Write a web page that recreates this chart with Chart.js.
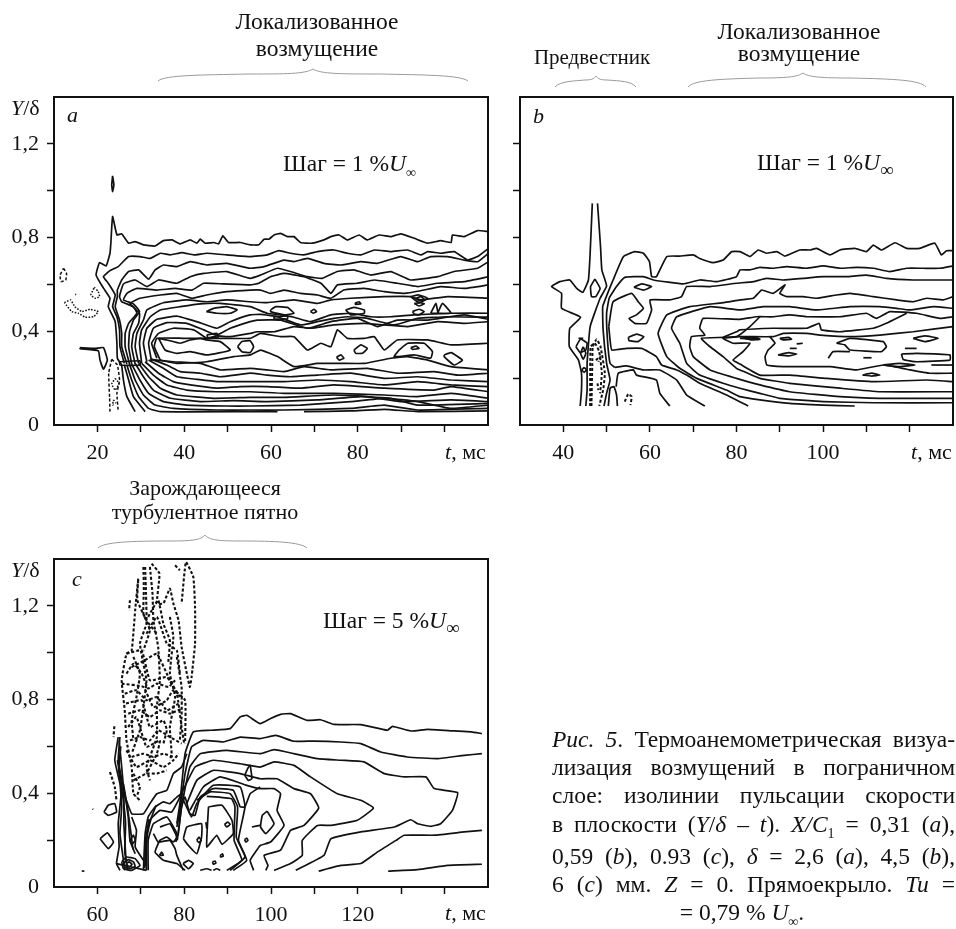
<!DOCTYPE html>
<html lang="ru">
<head>
<meta charset="utf-8">
<title>Рис. 5</title>
<script src="https://cdn.jsdelivr.net/npm/chart.js@4"></script>
<style>
html, body { margin: 0; padding: 0; background: #fff; width: 956px; height: 929px; overflow: hidden; }
body { position: relative; font-family: "Liberation Serif", serif; color: #111; }
canvas { position: absolute; display: block; }
.t { position: absolute; white-space: nowrap; font-size: 22px; line-height: 24px; }
.c { transform: translateX(-50%); }
.big { font-size: 23.5px; }
.j { position: absolute; left: 552px; width: 403px; font-size: 23.5px; line-height: 24px; text-align: justify; text-align-last: justify; white-space: normal; }
i { font-style: italic; }
sub { font-size: 14px; line-height: 0; }
svg { position: absolute; left: 0; top: 0; }
</style>
</head>
<body>
<canvas id="chartA" width="494" height="380" style="left:0;top:90px"></canvas>
<canvas id="chartB" width="486" height="380" style="left:470px;top:90px"></canvas>
<canvas id="chartC" width="494" height="378" style="left:0;top:551px"></canvas>

<svg width="956" height="929" fill="none" stroke="#9a9a9a" stroke-width="1">
  <path d="M158 81 C165 75 200 75 250 74 C285 74 305 74 313 69 C321 74 341 74 380 74 C425 75 460 75 468 81"/>
  <path d="M555 87 C560 81 575 81 585 80 C591 80 594 79 596 76 C598 79 601 80 607 80 C620 81 631 81 636 87"/>
  <path d="M688 87 C694 80 720 79 760 78 C785 78 798 77 803 73 C808 77 822 78 850 78 C895 79 920 80 926 87"/>
  <path d="M98 548 C104 542 130 541 170 541 C192 541 201 540 205 535 C209 540 218 541 240 541 C275 541 300 542 307 548"/>
</svg>

<div class="t c big" style="left:317px;top:9px">Локализованное</div>
<div class="t c big" style="left:317px;top:36px">возмущение</div>
<div class="t c" style="left:592px;top:45px;font-size:21px">Предвестник</div>
<div class="t c big" style="left:799px;top:19px">Локализованное</div>
<div class="t c big" style="left:799px;top:41px">возмущение</div>
<div class="t c" style="left:205px;top:476px">Зарождающееся</div>
<div class="t c" style="left:205px;top:500px">турбулентное пятно</div>

<div class="t" style="left:11px;top:96px"><i>Y</i>/δ</div>
<div class="t" style="left:11px;top:558px"><i>Y</i>/δ</div>
<div class="t" style="left:67px;top:103px"><i>a</i></div>
<div class="t" style="left:533px;top:104px"><i>b</i></div>
<div class="t" style="left:72px;top:567px"><i>c</i></div>
<div class="t big" style="left:283px;top:151px">Шаг = 1 %<i>U</i><sub>∞</sub></div>
<div class="t big" style="left:757px;top:150px">Шаг = 1 %<i>U</i><sub style="font-size:19px">∞</sub></div>
<div class="t big" style="left:323px;top:608px">Шаг = 5 %<i>U</i><sub style="font-size:19px">∞</sub></div>
<div class="t" style="left:445px;top:440px"><i>t</i>, мс</div>
<div class="t" style="left:911px;top:440px"><i>t</i>, мс</div>
<div class="t" style="left:445px;top:901px"><i>t</i>, мс</div>

<div class="j" style="top:727px"><i>Рис. 5</i>. Термоанемометрическая визуа-</div>
<div class="j" style="top:755px">лизация возмущений в пограничном</div>
<div class="j" style="top:783px">слое: изолинии пульсации скорости</div>
<div class="j" style="top:812px">в плоскости (<i>Y</i>/<i>δ</i> – <i>t</i>). <i>X/C</i><sub>1</sub> = 0,31 (<i>a</i>),</div>
<div class="j" style="top:844px">0,59 (<i>b</i>), 0.93 (<i>c</i>), <i>δ</i> = 2,6 (<i>a</i>), 4,5 (<i>b</i>),</div>
<div class="j" style="top:872px">6 (<i>c</i>) мм. <i>Z</i> = 0. Прямоекрыло. <i>Tu</i> =</div>
<div class="t c big" style="left:742px;top:900px">= 0,79 % <i>U</i><sub>∞</sub>.</div>

<script>
// тики осей
const yTickValues = [0, 0.2, 0.4, 0.6, 0.8, 1.0, 1.2];
const yTickLabels = ['0', '', '0,4', '', '0,8', '', '1,2'];
const xTicksA = [20, 30, 40, 50, 60, 70, 80, 90, 100];
const xLabelsA = ['20', '', '40', '', '60', '', '80', '', ''];
const xTicksB = [40, 50, 60, 70, 80, 90, 100, 110, 120];
const xLabelsB = ['40', '', '60', '', '80', '', '100', '', ''];
const xTicksC = [60, 70, 80, 90, 100, 110, 120, 130, 140];
const xLabelsC = ['60', '', '80', '', '100', '', '120', '', ''];

// изолинии: t, Y/δ, t, Y/δ ...
const aLines = [
  [25.6,.256,24.6,.285,24.5,.349,24.1,.441,22.5,.505,22.9,.541,21.4,.584,19.7,.640,20.5,.693,22,.679,22.9,.733,23.1,.776,23.5,.890,24.5,.811,25.6,.816,27.2,.776,28.7,.783,30.6,.769,33.3,.764,35.2,.787,37.2,.790,39.1,.773,41.4,.790,42.9,.776,43.7,.793,44.8,.776,46.8,.779,47.9,.773,48.9,.807,50.2,.779,52.9,.779,55.2,.769,57.2,.769,58.4,.793,59.5,.793,60.7,.811,62.2,.818,63.8,.804,65.3,.804,66.8,.779,69.5,.776,72.2,.790,73.8,.804,75.7,.811,77.6,.790,80.3,.811,82.2,.790,84.9,.811,87.6,.804,89.9,.816,93,.797,96.1,.776,99.1,.787,101.5,.779,101.8,.811,104.5,.804,107.6,.830,110.1,.825],
  [26.2,.263,25.2,.334,25.1,.406,24.5,.462,23.5,.505,24.1,.555,22.5,.605,21.4,.633,22.9,.659,24.8,.676,27.2,.719,29.8,.719,32.2,.711,34.5,.733,36.8,.726,39.5,.736,42.2,.726,45.2,.733,49.8,.726,55.2,.719,59.1,.726,61.8,.744,64.5,.733,67.6,.726,70.7,.740,74.5,.747,77.6,.733,80.7,.726,83.8,.747,87.6,.740,91.5,.747,94.5,.726,96.1,.740,99.1,.733,102.2,.740,105.3,.704,107.6,.719,110.1,.754],
  [26.8,.260,25.6,.334,25.6,.391,25.1,.448,24.1,.505,24.6,.548,24.6,.576,25.6,.619,27.2,.655,29.5,.662,31.8,.622,33.3,.662,35.2,.683,38.3,.676,41.4,.697,45.2,.683,49.8,.690,55.2,.669,58.4,.676,63,.704,65.3,.697,68.4,.711,72.2,.690,76.1,.683,80.7,.697,84.5,.690,89.9,.719,93.8,.697,96.8,.719,100.7,.719,104.5,.704,107.6,.697,110.1,.733],
  [27.4,.260,26.4,.334,26.4,.391,27.2,.434,29.1,.477,28.3,.505,25.6,.526,25.1,.548,26,.602,28.7,.619,31.4,.591,34.1,.619,38.3,.605,41.4,.633,44.5,.647,49.8,.655,55.2,.626,57.6,.640,61.5,.669,64.5,.655,68.4,.633,71.8,.626,75.3,.655,79.1,.662,83,.640,87.6,.655,92.2,.619,98.4,.633,102.2,.655,107.6,.669,110.1,.697],
  [27.9,.260,27.2,.334,27.4,.398,28.3,.448,29.7,.484,28.3,.517,26,.534,26.8,.562,29.1,.583,33.7,.576,37.9,.583,41.8,.576,44.5,.605,49.1,.602,55.2,.598,57.2,.605,59.9,.633,63,.647,67.6,.633,71.5,.605,73.8,.562,75.3,.598,79.9,.605,83.8,.619,89.1,.605,93.8,.591,98.4,.605,104.5,.612,110.1,.633],
  [28.7,.260,27.9,.334,28.3,.391,29.5,.434,29.7,.477,27.5,.519,29.8,.541,34.5,.555,38.3,.562,41.8,.541,45.2,.555,49.8,.569,55.2,.576,57.6,.576,59.9,.562,63,.576,66.8,.562,70.7,.555,73.8,.541,76.8,.576,81.5,.583,86.1,.569,90.7,.562,94.5,.573,99.1,.591,104.5,.583,110.1,.598],
  [29.5,.263,28.7,.334,29.1,.391,30.6,.448,31.4,.491,35.2,.522,40.6,.534,45.2,.526,49.8,.534,55.2,.526,59.1,.522,65.3,.534,70.7,.519,73.8,.534,78.4,.541,86.1,.548,92.2,.548,94.5,.534,100.7,.548,110.1,.541],
  [30.2,.263,29.7,.349,30.2,.406,32.2,.462,34.5,.491,39.1,.505,43.7,.517,48.3,.519,55.2,.505,59.1,.477,62.2,.470,65.3,.460,69.1,.441,73.8,.470,78.4,.477,83,.462,87.6,.462,93,.470,101.5,.477,110.1,.477],
  [31.4,.270,30.6,.349,31.4,.413,33.7,.451,38.3,.465,42.9,.441,47.5,.413,50.6,.441,55.2,.470,57.6,.472,61.5,.462,66.8,.427,70.7,.441,74.5,.455,77.6,.462,82.2,.455,88.4,.427,93.8,.455,100.7,.462,110.1,.460],
  [32.5,.270,31.8,.349,32.9,.413,36,.437,40.6,.434,44.5,.406,47.5,.384,50.6,.413,55.2,.441,56.8,.448,62.2,.448,68.4,.413,73.8,.441,79.9,.455,84.5,.420,89.1,.448,96.1,.448,104.5,.470,110.1,.451],
  [33.7,.285,32.5,.349,34.1,.391,37.5,.413,42.2,.406,45.2,.370,47.5,.380,50.6,.377,55.2,.391,56.8,.398,60.7,.398,65.3,.420,69.1,.413,74.5,.427,81.5,.434,86.1,.427,91.5,.420,98.4,.441,104.5,.434,110.1,.441],
  [34.5,.277,33.1,.334,33.7,.370,39.8,.370,47.5,.370,55.2,.370,57.6,.391,62.2,.377,65.3,.377,68.4,.320,71.5,.349,73.8,.334,75.3,.406,77.6,.370,81.5,.370,83.8,.377,86.1,.320,89.1,.363,96.1,.363,101.5,.342,110.1,.349],
  [34.5,.277,38.3,.263,45.2,.270,51.4,.292,55.2,.299,57.6,.320,61.5,.292,65.3,.249,70.7,.263,76.1,.263,81.5,.263,87.6,.285,91.5,.292,96.1,.277,101.5,.249,110.1,.235],
  [32.2,.280,37.5,.270,43.7,.263,48.3,.235,55.2,.242,59.1,.235,63,.228,67.6,.249,73.8,.235,82.2,.242,89.1,.221,97.6,.228,103,.213,110.1,.221],
  [32.5,.280,36,.256,39.1,.228,43.7,.221,48.3,.206,55.2,.221,59.1,.213,64.5,.206,70.7,.213,78.4,.221,86.1,.199,93.8,.206,101.5,.192,110.1,.185],
  [31.8,.277,35.2,.242,38.3,.206,42.9,.195,47.5,.185,51.4,.185,56.8,.185,63,.185,70.7,.192,78.4,.185,86.1,.171,93.8,.185,101.5,.171,110.1,.164],
  [31,.270,34.1,.221,37.5,.185,41.4,.171,47.5,.157,52.9,.164,59.1,.164,66.8,.157,74.5,.171,86.1,.157,97.6,.149,101.5,.164,110.1,.142],
  [30.2,.263,32.9,.213,36,.171,40.6,.149,47.5,.142,55.2,.142,63,.135,74.5,.135,86.1,.128,93.8,.121,101.5,.135,110.1,.114],
  [29.5,.263,31.8,.206,34.5,.157,38.3,.128,46.8,.114,55.2,.118,63,.118,74.5,.128,82.2,.121,89.9,.100,101.5,.107,110.1,.100],
  [28.7,.263,30.6,.206,32.9,.149,36.8,.114,43.7,.100,51.4,.104,59.1,.100,70.7,.107,80.7,.121,87.6,.114,93.8,.085,110.1,.092],
  [27.9,.260,29.8,.192,31.8,.135,35.2,.100,40.6,.085,49.8,.081,55.2,.081,66.8,.085,78.4,.100,86.1,.114,93.8,.100,101.5,.071,110.1,.085],
  [27.4,.260,28.7,.192,30.6,.128,33.3,.085,37.5,.071,47.5,.064,55.2,.064,63,.064,78.4,.071,86.1,.085,93.8,.064,110.1,.071],
  [26.8,.256,27.9,.192,29.5,.121,31.8,.071,34.5,.057,55.2,.057,61.5,.057],
  [67.6,.057,78.4,.060,86.1,.067,93.8,.057,110.1,.060],
  [26.2,.256,27.2,.192,28.3,.121,31,.057],
  [25.6,.256,26,.192,26.8,.121,28.7,.057]
];
const aLoops = [
  [34.1,.370,35.6,.320,38.3,.306,41.4,.313,45.2,.299,50.6,.320,48.3,.356,45.2,.363,43.7,.370,41.4,.363,39.1,.349,36,.363],
  [45.1,.484,46.8,.498,49.8,.505,52.2,.491,50.6,.477,47.5,.477],
  [52.3,.334,53.3,.356,55.2,.360,56,.334,55.2,.309,53.3,.313],
  [79.1,.320,80.7,.342,82.2,.327,81.1,.306,79.5,.306],
  [75.1,.289,76.1,.299,76.8,.285,75.7,.277],
  [89.5,.320,91.5,.349,95.3,.349,97.2,.313,96.8,.285,93,.299,88.4,.292],
  [92.2,.330,93.4,.337,94.1,.327,92.6,.323],
  [99.9,.299,101.5,.309,104.1,.277,102.2,.256,99.9,.292],
  [59.9,.491,61.1,.505,63.8,.502,65.3,.477,63,.470,59.9,.484],
  [69.1,.484,69.9,.494,70.5,.484,69.7,.477],
  [77.2,.491,79.1,.502,81.5,.491,81.5,.477,78.4,.470],
  [79.3,.519,80.3,.526,80.7,.517,79.5,.515],
  [92.6,.484,94.1,.494,95.3,.484,94.1,.470,93,.474],
  [93,.519,94.5,.522,95.3,.517,94.1,.508],
  [96.8,.477,98,.519,98.4,.477],
  [98.4,.477,99.5,.519,101.5,.477],
  [92.2,.548,94.1,.555,96.1,.541,94.1,.522],
  [93.4,.541,94.5,.548,95.3,.536,94.1,.530],
  [60.7,.462,63.8,.465,63.8,.453,60.7,.453],
  [45.2,.384,47.5,.391,47.9,.377,45.6,.370],
  [25.1,.270,29.8,.274,29.8,.256,25.2,.256],
  [16,.330,19.5,.327,21.4,.330,22.3,.277,21.4,.238,20.6,.277,20.2,.317,16,.326],
  [23.5,1.063,23.8,1.025,23.5,.996,23.3,1.025]
];
const aDash = [
  [12.2,.669,12.9,.647,12.7,.619,11.6,.612,11.4,.640,12.2,.669],
  [23.3,.280,24.6,.256,25.1,.192,24.5,.135,24.8,.057],
  [22.9,.057,22.8,.121,22.6,.221,23.3,.280]
];
const aDots = [
  [19.3,.588,20.2,.569,20.5,.548,19.5,.541,18.5,.555,19.3,.588],
  [12.4,.522,13.8,.534,14.8,.505,16.4,.484,18.3,.494,20.2,.484,19.1,.462,17.2,.460,15.6,.477,14.1,.484,12.4,.522],
  [14.9,.558,15.1,.556],
  [24.1,.199,25,.178,24.1,.149,23.3,.175,24.1,.199],
  [23.7,.107,24.2,.095,23.5,.085,23.7,.107]
];

const bLines = [
  [43.9,.081,44.2,.149,44.2,.221,43.5,.277,41.4,.334,41.5,.413,44,.460,39.6,.498,39.6,.562,37.3,.591,39.2,.612,41.5,.619,43.1,.583,44.5,.566,45.8,.619,46.2,.733,46.7,.946],
  [47.9,.946,48.6,.761,48.9,.662,50,.593,48.5,.541,46.2,.420,45.5,.263,45.5,.149,45.2,.081],
  [49.4,.081,50,.135,50.8,.192,50,.263,49.2,.406,49.1,.505,50,.551,51.5,.619,53.9,.719,56.5,.740,58.5,.733,59.9,.697,60.4,.633,61.5,.633,63.9,.719,66.9,.721,70,.726,71.5,.711,74.6,.693,76.9,.704,78.9,.740,80.8,.740,83.1,.719,85,.747,86.9,.733,89.3,.740,91.2,.721,94.6,.747,97,.747,98.5,.754,101.6,.726,103.9,.747,107.3,.754,110,.740,111.6,.768,113.5,.747,116.6,.778,119.3,.754,122.3,.754,125.8,.776,127.3,.726,128.5,.744,130,.744],
  [51.9,.246,50.8,.263,50.2,.363,50,.477,50.6,.541,52.3,.591,54.2,.630,58.5,.633,60.8,.619,67.7,.602,71.5,.619,75.4,.612,80,.633,80.8,.662,83.1,.662,85.4,.673,88.5,.669,91.6,.676,96.2,.669,100,.679,103.9,.669,107.7,.673,111.6,.669,115.4,.655,119.3,.669,123.1,.669,127,.669,130,.679],
  [50.5,.420,51.5,.526,55.8,.562,57.3,.526,58.5,.498,56.9,.470,55.2,.455,56.5,.434,59.2,.434,60.4,.491,60,.534,64.6,.534,67.3,.548,68.5,.591,73.9,.591,80,.605,83.9,.612,86.9,.626,90.8,.619,95.4,.626,100,.633,105.4,.633,110,.640,114.6,.626,120.8,.619,125.4,.619,130,.619],
  [50.5,.420,50.8,.363,51.2,.320,54.6,.327,58.1,.327,61.5,.292,62.7,.256,66.2,.235,68.5,.213,71.5,.178,77.7,.128,82.7,.081],
  [50.4,.081,50.8,.157,51.7,.164,52.3,.128,52.5,.081],
  [52.2,.164,52.7,.221,56.2,.235,56.9,.213,61.5,.192,62.3,.135,64.6,.081],
  [51.9,.246,54.6,.252,58.5,.235,62.3,.235,66.2,.192,68.5,.128,72.7,.081],
  [107.3,.081,100,.085,92.3,.092,85.4,.107,80.8,.121,77.7,.149,70.8,.199,66.9,.242,63.9,.292,61.9,.391,63.9,.470,69.2,.505,76.9,.522,80.8,.534,83.9,.541,85.8,.576,88.5,.562,91.2,.598,90,.562,91.6,.548,95.4,.548,98.5,.541,103.1,.555,106.2,.562,111.6,.548,117,.534,120.8,.526,123.9,.541,127.7,.534,130,.548],
  [130,.095,111.6,.095,100,.100,90,.114,85.4,.135,80.8,.157,76.9,.178,71.5,.213,68.5,.263,66.9,.349,65,.413,66.2,.462,73.9,.505,80.8,.491,86.2,.505,92.3,.505,98.5,.491,106.2,.505,113.1,.505,117,.498,120,.491,125.4,.505,130,.498],
  [130,.114,113.1,.114,103.9,.121,92.3,.142,85.4,.171,80,.199,73.9,.235,70,.292,69.2,.334,69.6,.377,72.7,.384,71.5,.413,72.3,.455,80.8,.451,84.6,.462,88.5,.462,92.3,.470,96.2,.462,103.9,.462,110,.477,112.3,.455,115.4,.484,121.6,.477,127,.455,130,.462],
  [130,.142,113.1,.142,103.9,.157,92.3,.178,85.4,.199,80.8,.235,80,.242,76.9,.292,73.9,.334,71.9,.370,80,.377,83.1,.420,85.4,.462],
  [76.9,.374,80,.398,80.8,.406,88.5,.413,96.2,.413,99.1,.434,99.6,.406,103.9,.398,111.6,.413,114.6,.434,117.7,.462,119.3,.477],
  [130,.185,123.9,.192,111.6,.185,100.8,.199,92.3,.213,85.4,.213,80.8,.260,79.2,.277,81.5,.313,83.1,.349,79.2,.349,76.9,.370,80.8,.377,88.5,.377,90.8,.391,96.2,.391,99.3,.384,106.2,.377,113.1,.384,120.8,.398,130,.420],
  [87.7,.377,88.9,.349,87.3,.320,86.6,.292,87,.256,90.8,.249,96.2,.249,101.6,.249,107.7,.235,113.9,.256,119.3,.238,124.6,.221,130,.221],
  [93.9,.346,95.3,.349],
  [92.3,.327,93.9,.327],
  [101.2,.285,102.3,.313,106.2,.313],
  [118.9,.327,121.6,.327],
  [109.3,.287,111.2,.287],
  [125,.256,130,.256],
  [43.5,.370,44.6,.370]
];
const bLoops = [
  [56.3,.588,58.1,.602,60.4,.591,58.5,.576],
  [55,.374,56.9,.388,58.6,.377,57.3,.356,55.2,.360],
  [47.3,.623,48.5,.583,47.5,.548,46.5,.548,46.3,.591],
  [42.9,.334,44,.367,45.5,.349,45.2,.320,43.9,.309],
  [44.6,.334,45.2,.306,44.6,.280,44,.306],
  [44.8,.246,45.4,.235,44.8,.225,44.3,.235],
  [80.8,.370,83.1,.374,85.2,.370,83.1,.366],
  [82,.370,83.9,.374,85.4,.366,83.5,.363],
  [90,.370,92,.374,92.7,.366,90.8,.363],
  [89.6,.299,92,.309,93.9,.303,92,.295],
  [103.1,.349,106.2,.370,113.9,.356,114.6,.334,113.5,.313,106.2,.320,105,.342],
  [120.8,.370,123.5,.380,126.6,.370,123.5,.356],
  [118.1,.303,121.6,.306,129.3,.299,129.3,.277,121.6,.270,118.5,.280],
  [113.9,.256,117.7,.263,121.2,.256,117.7,.249],
  [109.1,.213,111.2,.221,113.1,.213,111.2,.209]
];
const bDash = [
  [46.5,.081,46.7,.263,46.8,.334,47.7,.366,48.6,.334,49.6,.221,49.2,.149,48.3,.081],
  [46.2,.081,46.3,.334,47.3,.349,48.3,.313,48.9,.221,48.5,.135],
  [47.5,.277,48.5,.292,48.1,.270],
  [47.9,.178,48.1,.149],
  [54.2,.100,55,.132,55.8,.121,55.5,.085]
];

const cLines = [
  [78.3,.270,79,.356,80.2,.569,82.1,.662,86,.669,90.6,.676,92.9,.726,94.4,.733,97.5,.697,99.9,.719,102.2,.737,104.5,.740,108.4,.711,111.4,.714,114.5,.694,120.7,.693,126.8,.669,128,.686,132.2,.666,136.1,.673,142.2,.666,146.1,.662,148.6,.655],
  [78.7,.285,80.2,.484,81.7,.598,84.4,.626,89,.619,92.9,.640,97.5,.633,101.1,.647,105.3,.622,109.9,.623,116.1,.619,120.7,.612,125.3,.576,131.4,.555,138.4,.548,144.5,.562,148.6,.569],
  [78.3,.256,79.8,.384,81.3,.512,83.7,.569,89.8,.583,97.5,.569,100.7,.586,105.3,.569,110.7,.548,116.1,.541,121.4,.534,126.1,.484,130.7,.470,135.7,.470,137.6,.420,143,.403,141.8,.327,139.1,.270,136.8,.259,133.8,.270,132.2,.287,128.4,.256,120.7,.235,113.8,.206,112.2,.135,105.7,.071],
  [79,.384,82.5,.512,86.7,.541,92.9,.526,97.5,.512,100.7,.534,105.3,.519,109.1,.470,115.3,.398,120.7,.370,123.6,.337,119.9,.285,113.8,.263,110.7,.263,107.2,.199,107.2,.135,104.5,.100,100.7,.071],
  [80.6,.356,82.9,.455,86.7,.498,92.9,.484,97.5,.462,101.4,.462,105.3,.420,109.1,.398,111,.337,107.6,.263,104.5,.242,102.2,.157,98.4,.135,99.3,.092,98.8,.071],
  [81.3,.327,84.4,.427,88.3,.470,94.4,.434,97.5,.420,100.7,.420,102.2,.398,101.4,.327,103,.263,99.9,.192,97.6,.178,96.7,.157,95.2,.114,96,.071],
  [111,.068,116.1,.092,120.7,.100,124.5,.149,128.8,.199,130.7,.221,137.6,.221,144.5,.235,148.6,.242],
  [127,.068,133.8,.074,140.7,.092,148.6,.097],
  [64.8,.640,64,.541,65.2,.441,65.6,.342,65.2,.228,66,.114,66.3,.071],
  [65.2,.640,64.8,.541,66.3,.398,67.1,.299,67.5,.199,68.7,.142],
  [64.6,.541,65.6,.427,64.8,.270,65,.171,64.4,.100,65.2,.071],
  [65,.626,65.6,.512,66.1,.398,66.1,.270,66.6,.114],
  [65.4,.600,64.9,.500,65.9,.380,66.5,.270,66.3,.150,66.9,.080],
  [66,.440,67,.330,67.8,.220,68.2,.160],
  [70.9,.080,71.5,.220,72.5,.300,73.6,.350],
  [71,.090,71.1,.200,71.9,.290],
  [78.6,.220,79.3,.330,79.9,.400],
  [65.6,.427,67.9,.313,70.6,.313,72.1,.356,73.7,.398,76,.413,77.5,.484,79.4,.512,80.6,.569],
  [70.6,.071,71,.228,71.7,.299,73.3,.342,75.2,.363,76.7,.356,78.3,.384,79.4,.398],
  [71.3,.071,71.3,.213,72.1,.285,74.4,.327,77.1,.320,79,.384,79.7,.427],
  [71.7,.071,71.7,.199,72.9,.270,76,.299,78.3,.228,78.1,.192],
  [78.4,.199,79.4,.342,80.2,.384,81.3,.313,82.5,.306,83.7,.384,86.7,.420,91.3,.413,92.9,.342,94,.342,95.2,.398,97.5,.427],
  [79,.342,79.8,.370,81.7,.299,82.9,.356,86.7,.434,92.9,.427,94,.342,92.5,.199,94.4,.114,91.3,.071],
  [82.9,.370,86,.406,90.6,.398,92.3,.342,92,.213,94,.128,90.6,.071],
  [85.2,.387,90.9,.377,91.7,.342,91.5,.199,93.3,.114,89.8,.071],
  [74.4,.256,76.7,.270,78.3,.213,77.5,.192,76,.213,74.4,.199,73.3,.149,75.2,.114,78.3,.100,80.2,.071],
  [72.9,.228,74,.192,76.7,.199,77.9,.164,78.3,.135,79.8,.071],
  [67.9,.299,69,.242,68.7,.171,70.6,.114],
  [85,.277,85.2,.249],
  [95.6,.256,97.5,.263],
  [83.7,.071,85.2,.078,86.3,.071],
  [86.7,.071,87.5,.078,88.3,.071],
  [56.4,.068,57,.068],
  [58.9,.334,59,.331],
  [64.4,.100,71.3,.071]
];
const cLoops = [
  [99.1,.324,100.7,.270,98.8,.228,97.6,.256,98,.306],
  [65.6,.107,66.7,.128,68.7,.121,69.8,.092,67.9,.071,66,.078],
  [66.1,.103,67.1,.117,68.3,.107,68.7,.088,67.5,.078,66.3,.085],
  [66.6,.100,67.3,.107,68,.097,67.3,.085],
  [85.6,.342,88.7,.349,91,.285,91.3,.228,88.7,.182,87.5,.221,85.2,.171],
  [79.8,.206,80.6,.256,84,.270,84,.213,82.9,.142,80.6,.185],
  [82.9,.199,83.4,.213,83.9,.199,83.4,.189],
  [89.3,.268,90,.277,90.6,.268,89.8,.256],
  [93.9,.202,94.4,.209,94.7,.199,94.2,.192],
  [88.3,.135,88.8,.142,89,.132,88.4,.128],
  [86.5,.107,87.1,.111,87.3,.102,86.7,.097],
  [79.7,.100,81,.114,82.1,.100,81,.078],
  [67.5,.199,68.3,.221,68.7,.199,67.9,.182],
  [74.3,.135,74.8,.149,75.2,.135],
  [94.8,.512,95.2,.519,95.6,.462,94.8,.455,94,.477],
  [61.5,.320,62.5,.349,64,.356,64.4,.320,62.5,.306],
  [60.6,.206,62.3,.231,63.7,.192,62.5,.164]
];
const cDash = [
  [72.5,1.380,74.3,1.338,73.7,1.210,75.2,1.210,76.7,1.274,77.5,1.210,78.7,1.138,79.4,1.025,80.6,.911,81.3,.854,81.7,.896,82.5,1.039,82.5,1.195,82.1,1.323,80.4,1.387,79.4,1.210],
  [69.4,1.316,68.7,1.181,67.9,1.010,66.7,.996,65.6,.882,66.3,.754,66.7,.626,67.9,.512,68.3,.398,69.8,.370],
  [71,1.366,71.2,1.252,71.3,1.124,69.8,1.039,71.3,.882,70.6,.768,69.8,.669,67.9,.569],
  [72.1,1.366,72.7,1.252,72.9,1.138,74,1.025,74.4,.882,73.7,.768,73.7,.640,71.3,.512,72.1,.455],
  [76.7,1.153,77.5,1.067,76.7,.911,77.9,.811,76.7,.683,77.1,.569,76.7,.541],
  [67.5,1.224,67.3,1.181],
  [66.7,.996,70.2,1.010,72.1,.882,76,.896,78.3,.825,79.4,.683,80,.612],
  [65.6,.868,70.6,.854,72.9,.768,76,.797,77.5,.840,80.2,.797,80.2,.612],
  [66.6,.783,70.2,.797,72.1,.683,75.2,.711,76,.669,75.2,.612],
  [67.1,.683,69,.726,71.3,.598,74.4,.626,73.7,.569,71.3,.484],
  [66.7,.583,69,.512,72.1,.541,75.2,.512,77.5,.541,78.7,.569],
  [62.9,.491,64,.427,64.4,.370],
  [63.9,.686,63.7,.640],
  [77.9,1.373,79,1.352],
  [71.3,1.081,73.7,1.153,76,1.039,78.3,1.010,79,.911],
  [67.9,.939,71,.968,73.7,.996,76.7,.882,79,.811],
  [68.3,.484,69.8,.427,69,.384],
  [69.4,1.309,69.2,1.224,71.3,1.138,73.7,1.081],
  [66.7,.911,68.3,.953,70.2,.911,71.7,.847,73.7,.868,76.4,.854,77.9,.882],
  [66.3,.825,69,.840,71.3,.797,73.7,.811,76,.754,78.7,.783],
  [67.1,.740,69.8,.754,72.1,.726,74.4,.754,76.7,.740,79.4,.761],
  [67.5,.626,69.8,.640,72.1,.626,74,.669,76.7,.640,79.4,.612],
  [67.9,.555,70.6,.569,72.9,.555,75.2,.569,77.5,.555],
  [68.3,.455,71.3,.484,73.7,.484,76,.498],
  [70.6,1.366,70.7,1.266,70.6,1.167,72.1,1.096,70.6,1.010],
  [71.7,1.153,74,1.224,75.2,1.124,76.7,1.053,76.3,.953],
  [68.3,.982,69.8,.911,69,.811,67.9,.711,68.3,.626],
  [78.3,.982,79.4,.854,79.4,.726,79,.626]
];

const ink = '#111';

function toPoints(flat, closed) {
  const pts = [];
  for (let i = 0; i < flat.length; i += 2) {
    pts.push({ x: flat[i], y: flat[i + 1] });
  }
  if (closed) pts.push(pts[0]);
  return pts;
}

function isoline(flat, closed, dash, width) {
  return {
    data: toPoints(flat, closed),
    showLine: true,
    borderColor: ink,
    borderWidth: width,
    borderDash: dash,
    pointRadius: 0,
    tension: 0.12,
    fill: false
  };
}

// рамка графика
const frame = {
  id: 'frame',
  afterDatasetsDraw(chart) {
    const { ctx, chartArea: a } = chart;
    ctx.save();
    ctx.strokeStyle = ink;
    ctx.lineWidth = 2;
    ctx.strokeRect(a.left, a.top, a.right - a.left, a.bottom - a.top);
    ctx.restore();
  }
};

function noPadding(axis) {
  axis.paddingTop = 0;
  axis.paddingBottom = 0;
  axis.paddingLeft = 0;
  axis.paddingRight = 0;
}

function panel(id, cfg) {
  const datasets = [
    ...cfg.lines.map(l => isoline(l, false, [], 1.7)),
    ...cfg.loops.map(l => isoline(l, true, [], 1.7)),
    ...cfg.dash.map(l => isoline(l, false, [3, 2], cfg.dashWidth)),
    ...(cfg.dots || []).map(l => isoline(l, false, [1.5, 1.5], 1.5))
  ];
  new Chart(document.getElementById(id), {
    type: 'scatter',
    data: { datasets },
    plugins: [frame],
    options: {
      responsive: false,
      animation: false,
      events: [],
      layout: { padding: cfg.padding },
      plugins: { legend: { display: false }, tooltip: { enabled: false }, title: { display: false } },
      scales: {
        x: {
          type: 'linear',
          min: cfg.xMin,
          max: cfg.xMin + 100,
          afterBuildTicks: axis => { axis.ticks = cfg.xTicks.map(v => ({ value: v })); },
          afterFit: axis => { axis.height = cfg.xHeight; noPadding(axis); },
          grid: { drawOnChartArea: false, tickLength: 7, tickWidth: 1.5, tickColor: ink },
          border: { display: false },
          ticks: {
            autoSkip: false, maxRotation: 0, padding: 8, color: ink,
            font: { family: '"Liberation Serif"', size: 22 },
            callback: (v, i) => cfg.xLabels[i]
          }
        },
        y: {
          min: 0,
          max: 1.4,
          afterBuildTicks: axis => { axis.ticks = yTickValues.map(v => ({ value: v })); },
          afterFit: axis => { axis.width = cfg.yWidth; noPadding(axis); },
          grid: {
            drawOnChartArea: false, tickLength: 7, tickWidth: 1.5,
            tickColor: c => (c.tick && c.tick.value === 0 ? 'rgba(0,0,0,0)' : ink)
          },
          border: { display: false },
          ticks: {
            autoSkip: false, padding: 8, color: ink,
            font: { family: '"Liberation Serif"', size: 22 },
            callback: (v, i) => (cfg.showY ? yTickLabels[i] : '')
          }
        }
      }
    }
  });
}

panel('chartA', {
  lines: aLines, loops: aLoops, dash: aDash, dots: aDots, xMin: 10, dashWidth: 1.5,
  xTicks: xTicksA, xLabels: xLabelsA, showY: true,
  yWidth: 54, xHeight: 45, padding: { top: 7, right: 6, left: 0, bottom: 0 }
});
panel('chartB', {
  lines: bLines, loops: bLoops, dash: bDash, xMin: 30, dashWidth: 2,
  xTicks: xTicksB, xLabels: xLabelsB, showY: false,
  yWidth: 50, xHeight: 45, padding: { top: 7, right: 3, left: 0, bottom: 0 }
});
panel('chartC', {
  lines: cLines, loops: cLoops, dash: cDash, xMin: 50, dashWidth: 2.1,
  xTicks: xTicksC, xLabels: xLabelsC, showY: true,
  yWidth: 54, xHeight: 42, padding: { top: 8, right: 6, left: 0, bottom: 0 }
});
</script>
</body>
</html>
